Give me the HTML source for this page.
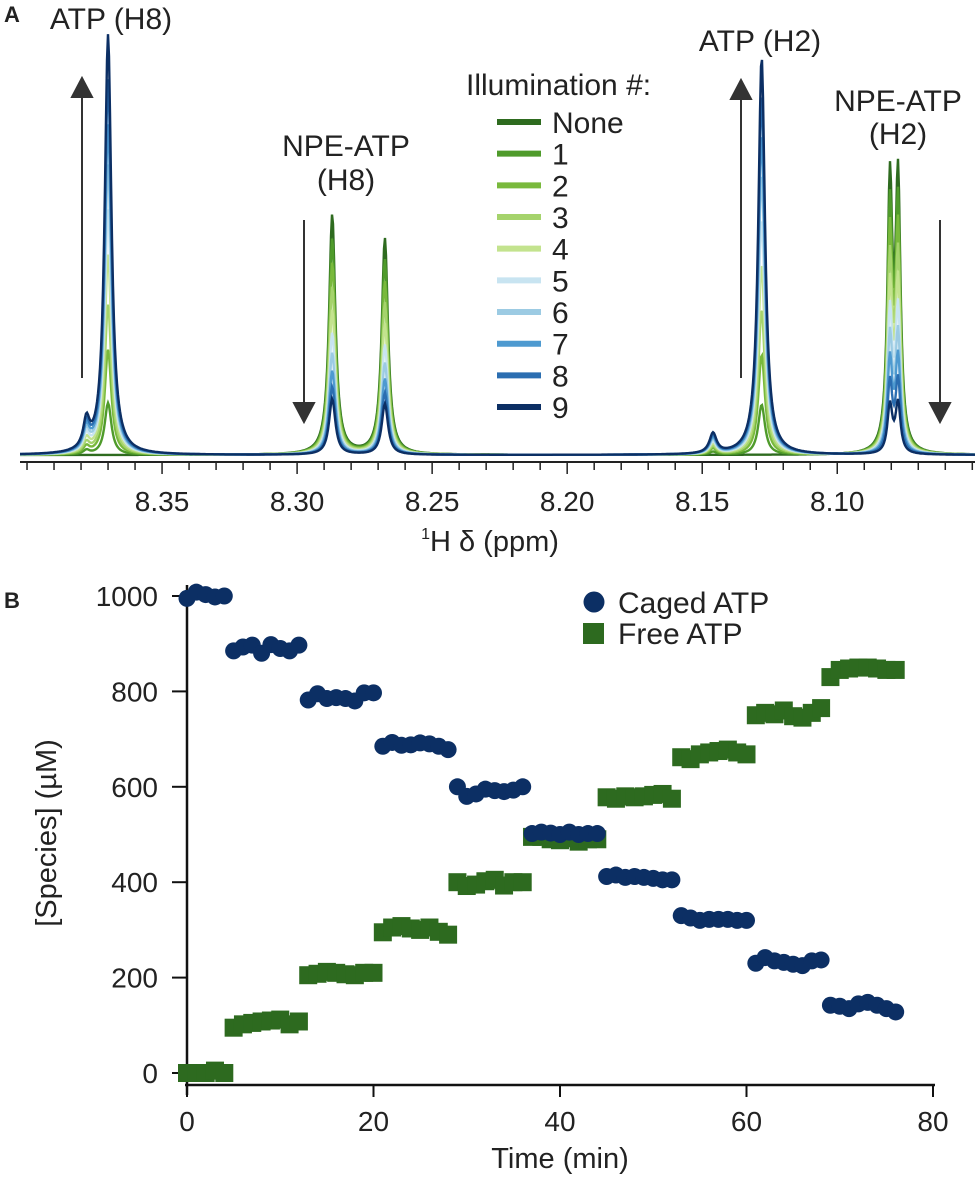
<!DOCTYPE html>
<html><head><meta charset="utf-8"><style>
body{margin:0;background:#fff;}
svg{display:block;font-family:"Liberation Sans",Arial,sans-serif;}
</style></head><body>
<svg id="fig" width="980" height="1177" viewBox="0 0 980 1177" xmlns="http://www.w3.org/2000/svg">
<text x="4" y="22" font-size="22" font-weight="bold" fill="#222">A</text>
<text x="4" y="608" font-size="22" font-weight="bold" fill="#222">B</text>
<g id="specLines"></g>
<g id="specAxis"></g>
<text x="490" y="551" font-size="29" text-anchor="middle" fill="#222"><tspan font-size="16" dy="-12">1</tspan><tspan dy="12">H δ (ppm)</tspan></text>
<g font-size="30" fill="#222" text-anchor="middle">
<text x="111" y="29">ATP (H8)</text>
<text x="346" y="156">NPE-ATP</text>
<text x="346" y="190">(H8)</text>
<text x="760" y="51">ATP (H2)</text>
<text x="898" y="111">NPE-ATP</text>
<text x="898" y="144">(H2)</text>
</g>
<g stroke="#333" stroke-width="2" fill="#333">
<line x1="82" y1="378" x2="82" y2="95"/><polygon points="82,78 72,97 92,97"/>
<line x1="304" y1="220" x2="304" y2="405"/><polygon points="304,422 294,403 314,403"/>
<line x1="741" y1="378" x2="741" y2="97"/><polygon points="741,80 731,99 751,99"/>
<line x1="940" y1="220" x2="940" y2="405"/><polygon points="940,422 930,403 950,403"/>
</g>
<g id="specLegend">
<text x="466" y="95" font-size="30" fill="#222">Illumination #:</text>
</g>
<g id="scatter"></g>
</svg>
<script>
const NS="http://www.w3.org/2000/svg";
function mk(t,a,p){const e=document.createElementNS(NS,t);for(const k in a)e.setAttribute(k,a[k]);p.appendChild(e);return e;}
// ---- Panel A data ----
const illumLabels=["None","1","2","3","4","5","6","7","8","9"];
const illumColors=["#2e6b1f","#4f9b2b","#79b93c","#a5d36c","#c3e38e","#c8e4f1","#9ccbe3","#4e9ad0","#2b6eb1","#0c2f64"];
const peakPpm=[8.370,8.378,8.2870,8.2675,8.1280,8.1460,8.0805,8.0775];
const peakHw=[0.0015,0.0014,0.0014,0.0014,0.0015,0.0016,0.0011,0.0011];
const hATP_H8=[0,52,105,150,200,245,290,330,375,420];
const hATP_H8s=[0,4,7,10,13,16,19,22,25,28];
const hNPE_H8a=[240,216,192,168,145,122,102,84,68,56];
const hNPE_H8b=[216,195,173,152,131,110,92,76,62,51];
const hATP_H2=[0,50,100,145,190,235,280,320,360,398];
const hATP_H2s=[0,3,6,8,10,12,14,16,18,20];
const hNPE_H2a=[262,237,212,187,162,138,114,92,70,48];
const hNPE_H2b=[265,240,215,190,165,140,116,94,72,50];
const xTicks=[8.35,8.30,8.25,8.20,8.15,8.10];
const ax={x0:20,x1:975,p0:8.4026,p1:8.0490,base:455,axisY:462};
function px(p){return ax.x0+(ax.p0-p)/(ax.p0-ax.p1)*(ax.x1-ax.x0);}
const sl=document.getElementById('specLines');
for(let s=0;s<illumLabels.length;s++){
  const H=[hATP_H8[s],hATP_H8s[s],hNPE_H8a[s],hNPE_H8b[s],hATP_H2[s],hATP_H2s[s],hNPE_H2a[s],hNPE_H2b[s]];
  let pts=[];
  for(let x=ax.x0;x<=ax.x1;x+=1){
    const p=ax.p0-(x-ax.x0)/(ax.x1-ax.x0)*(ax.p0-ax.p1);
    let y=0;
    for(let k=0;k<peakPpm.length;k++){const d=(p-peakPpm[k])/peakHw[k];y+=H[k]/(1+d*d);}
    pts.push(x+","+(ax.base-y).toFixed(1));
  }
  const pl=mk('polyline',{points:pts.join(" "),fill:"none",stroke:illumColors[s],"stroke-width":2.4},sl);
  
  
}
const sa=document.getElementById('specAxis');
mk('line',{x1:ax.x0,y1:ax.axisY,x2:ax.x1,y2:ax.axisY,stroke:"#222","stroke-width":2},sa);
for(let i=0;i<=35;i++){const p=8.40-i*0.01;const x=px(p);if(x<ax.x0||x>ax.x1)continue;
  const major=xTicks.some(t=>Math.abs(t-p)<1e-6);
  mk('line',{x1:x,y1:ax.axisY,x2:x,y2:ax.axisY+(major?12:8),stroke:"#222","stroke-width":1.5},sa);}
xTicks.forEach(t=>{const tx=mk('text',{x:px(t),y:511,"font-size":28,"text-anchor":"middle",fill:"#222"},sa);tx.textContent=t.toFixed(2);
  
  });
const lg=document.getElementById('specLegend');
illumLabels.forEach((l,i)=>{const y=122+i*31.67;
  const ln=mk('line',{x1:497,y1:y,x2:541,y2:y,stroke:illumColors[i],"stroke-width":6},lg);
  
  
  const t=mk('text',{x:552,y:y+11,"font-size":30,fill:"#222"},lg);t.textContent=l;
  
  });
// ---- Panel B data ----
const timesMin=[0,1,2,3,4];
for(let g=0;g<9;g++)for(let j=0;j<8;j++)timesMin.push(5+g*8+j);
const cagedATP=[995,1008,1003,998,1000, 885,893,897,880,898,890,885,897, 782,795,785,787,785,780,797,797, 685,693,687,688,692,690,685,678, 600,580,585,595,592,590,593,600, 502,505,503,500,505,500,502,502, 412,415,410,412,410,408,405,405, 330,325,320,322,322,322,320,320, 230,242,235,232,228,225,235,237, 142,140,135,145,148,142,135,128];
const freeATP=[0,0,0,5,0, 95,102,105,108,110,112,102,108, 205,208,212,210,207,205,210,210, 295,305,308,303,300,305,296,290, 400,392,395,402,405,393,400,400, 495,495,490,488,492,485,490,490, 578,575,580,578,580,583,585,575, 662,658,668,672,675,678,672,668, 750,755,752,760,748,745,755,765, 830,845,848,850,850,848,845,845];
const yTicksB=[0,200,400,600,800,1000];
const xTicksB=[0,20,40,60,80];
const bx={x0:187,x1:933,t0:0,t1:80,y0:1073,y1:596,v0:0,v1:1000};
function X(t){return bx.x0+(t-bx.t0)/(bx.t1-bx.t0)*(bx.x1-bx.x0);}
function Y(v){return bx.y0-(v-bx.v0)/(bx.v1-bx.v0)*(bx.y0-bx.y1);}
const sc=document.getElementById('scatter');
mk('line',{x1:bx.x0,y1:585,x2:bx.x0,y2:1095,stroke:"#111","stroke-width":2.5},sc);
mk('line',{x1:bx.x0-2,y1:1085,x2:935,y2:1085,stroke:"#111","stroke-width":2.5},sc);
yTicksB.forEach(v=>{mk('line',{x1:bx.x0-15,y1:Y(v),x2:bx.x0,y2:Y(v),stroke:"#111","stroke-width":2},sc);
  const t=mk('text',{x:bx.x0-29,y:Y(v)+10,"font-size":28,"text-anchor":"end",fill:"#222"},sc);t.textContent=v;
  
  });
xTicksB.forEach(v=>{mk('line',{x1:X(v),y1:1085,x2:X(v),y2:1097,stroke:"#111","stroke-width":2},sc);
  const t=mk('text',{x:X(v),y:1131,"font-size":28,"text-anchor":"middle",fill:"#222"},sc);t.textContent=v;
  
  });
const xt=mk('text',{x:560,y:1168,"font-size":29,"text-anchor":"middle",fill:"#222"},sc);xt.textContent="Time (min)";


const yt=mk('text',{x:56,y:833,"font-size":29,"text-anchor":"middle",fill:"#222",transform:"rotate(-90 56 833)"},sc);yt.textContent="[Species] (µM)";


timesMin.forEach((t,i)=>{const r=mk('rect',{x:X(t)-9,y:Y(freeATP[i])-9,width:18,height:18,fill:"#2d6a1f"},sc);
  
  });
timesMin.forEach((t,i)=>{const c=mk('circle',{cx:X(t),cy:Y(cagedATP[i]),r:8.5,fill:"#0c2f64"},sc);
  
  });
const lc=mk('circle',{cx:594,cy:602,r:10.5,fill:"#0c2f64"},sc);


const lt1=mk('text',{x:618,y:613,"font-size":30,fill:"#222"},sc);lt1.textContent="Caged ATP";


const lr=mk('rect',{x:583,y:623,width:21,height:21,fill:"#2d6a1f"},sc);


const lt2=mk('text',{x:618,y:644,"font-size":30,fill:"#222"},sc);lt2.textContent="Free ATP";


</script>
</body></html>
